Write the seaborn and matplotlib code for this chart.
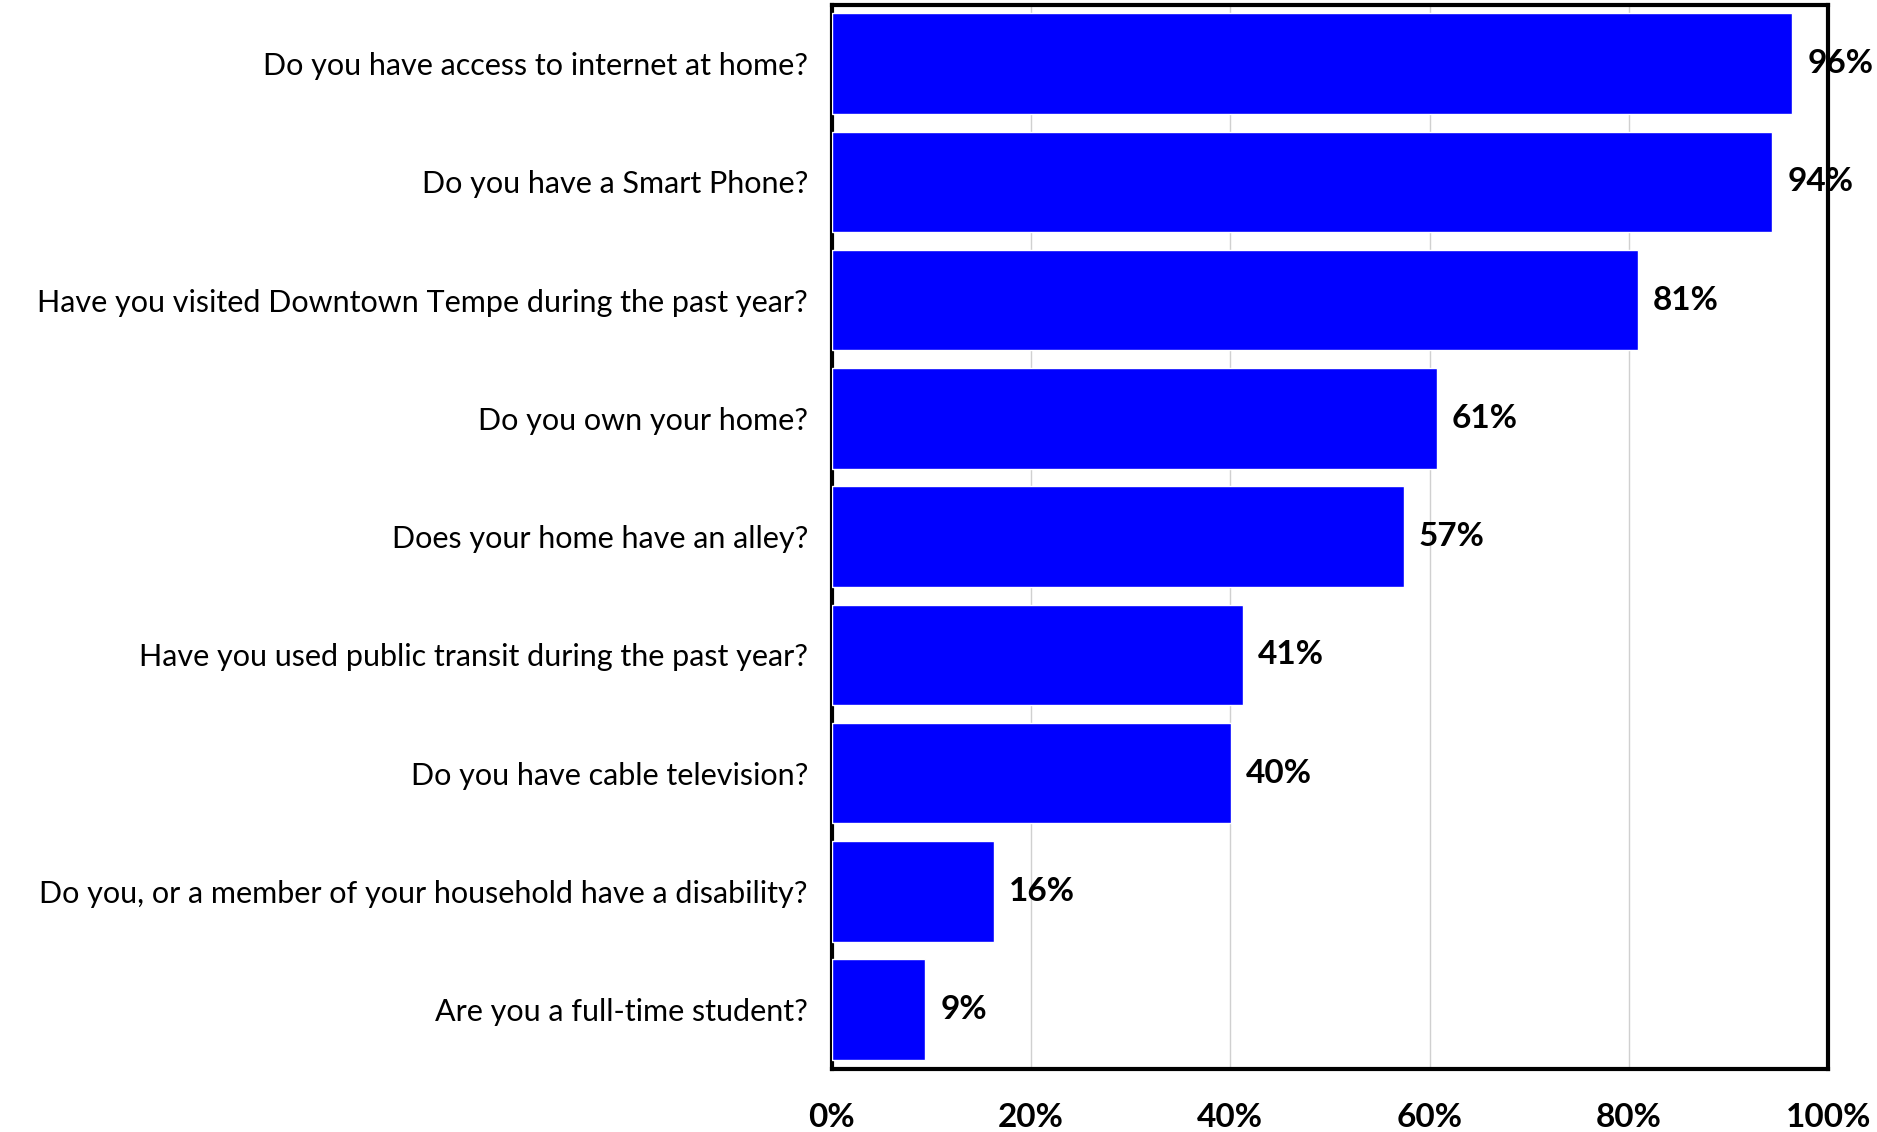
import seaborn as sns
import pandas as pd
import matplotlib.pyplot as plt

questions = [
    "Do you have access to internet at home?",
    "Do you have a Smart Phone?",
    "Have you visited Downtown Tempe during the past year?",
    "Do you own your home?",
    "Does your home have an alley?",
    "Have you used public transit during the past year?",
    "Do you have cable television?",
    "Do you, or a member of your household have a disability?",
    "Are you a full-time student?",
]
yes_share = [96.4, 94.4, 80.9, 60.7, 57.4, 41.3, 40.1, 16.3, 9.4]
tick_vals = [0, 20, 40, 60, 80, 100]

df = pd.DataFrame({"question": questions, "yes": yes_share})

sns.set_style("white", {"text.color": "black", "xtick.color": "black",
                        "ytick.color": "black"})
plt.rcParams["font.family"] = ["Lato", "DejaVu Sans"]

fig, ax = plt.subplots(figsize=(18.77, 11.32), dpi=100)
sns.barplot(data=df, x="yes", y="question", color="#0000ff", saturation=1,
            width=0.85, ax=ax, zorder=3)

for p, v in zip(ax.patches, yes_share):
    ax.text(p.get_width() + 1.5, p.get_y() + p.get_height() / 2, f"{round(v)}%",
            va="center", ha="left", fontsize=24, fontweight="bold",
            color="black", zorder=4)

ax.set_xlim(0, 100)
ax.set_ylim(8.5, -0.5)
ax.set_xticks(tick_vals)
ax.set_xticklabels([f"{t}%" for t in tick_vals], fontsize=24, fontweight="bold")
ax.tick_params(axis="x", length=0, pad=25, labelcolor="black")
ax.tick_params(axis="y", length=0, labelsize=22, pad=17, labelcolor="black")
ax.xaxis.grid(True, color="#d0d0d0", linewidth=1)
ax.set_xlabel("")
ax.set_ylabel("")
for s in ax.spines.values():
    s.set_visible(True)
    s.set_color("black")
    s.set_linewidth(3)

fig.subplots_adjust(left=0.443, right=0.974, top=0.996, bottom=0.056)
fig.savefig("out.png", dpi=100)
